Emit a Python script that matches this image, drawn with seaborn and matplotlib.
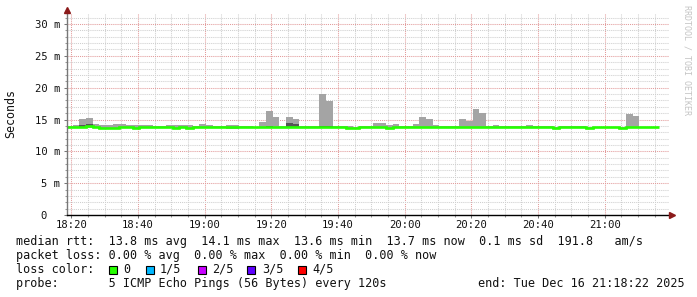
import numpy as np
import pandas as pd
import matplotlib
matplotlib.use("Agg")
import matplotlib.pyplot as plt
from matplotlib.patches import Rectangle
from matplotlib.ticker import MultipleLocator, FixedLocator
import seaborn as sns

# ---------------- data (ms, one value per 2-minute step) ----------------
median_ms = [13.8, 13.8, 13.8, 14.05, 13.9, 13.7, 13.7, 13.7, 13.85, 13.85,
             13.7, 13.85, 13.85, 13.8, 13.8, 13.8, 13.7, 13.8, 13.6, 13.8,
             13.75, 13.8, 13.8, 13.8, 13.75, 13.75, 13.8, 13.75, 13.75, 13.75,
             13.8, 13.85, 13.75, 13.8, 13.8, 13.8, 13.8, 13.8, 13.75, 13.75,
             13.85, 13.85, 13.7, 13.7, 13.8, 13.8, 13.8, 13.8, 13.7, 13.8,
             13.85, 13.85, 13.8, 13.8, 13.8, 13.85, 13.8, 13.8, 13.8, 13.85,
             13.85, 13.85, 13.85, 13.85, 13.8, 13.8, 13.8, 13.8, 13.8, 13.8,
             13.8, 13.8, 13.8, 13.65, 13.8, 13.8, 13.9, 13.8, 13.65, 13.8,
             13.8, 13.8, 13.8, 13.65, 13.8, 13.8, 13.8, 13.8, 13.8]
max_ms = [14.05, 14.1, 15.1, 15.3, 14.3, 14.1, 14.1, 14.3, 14.3, 14.1,
          14.1, 14.1, 14.1, 13.95, 13.95, 14.1, 14.1, 14.1, 14.1, 13.95,
          14.3, 14.1, 14.0, 14.0, 14.1, 14.1, 14.0, 13.95, 13.9, 14.6,
          16.3, 15.4, 13.95, 15.4, 15.1, 13.95, 13.95, 13.95, 19.0, 17.95,
          13.95, 13.95, 13.95, 13.9, 14.0, 14.0, 14.45, 14.45, 14.15, 14.35,
          14.0, 14.0, 14.35, 15.4, 15.1, 14.15, 13.95, 13.95, 14.0, 15.1,
          14.8, 16.65, 16.0, 13.95, 14.15, 13.95, 13.95, 13.95, 13.95, 14.15,
          13.95, 13.95, 13.95, 13.85, 13.95, 13.95, 14.05, 13.95, 13.85, 13.9,
          13.9, 13.9, 13.9, 13.85, 15.85, 15.55, 13.9, 13.9, 13.9]
min_ms = [13.6, 13.6, 13.6, 13.7, 13.65, 13.55, 13.55, 13.55, 13.6, 13.6,
          13.55, 13.6, 13.6, 13.6, 13.6, 13.6, 13.55, 13.6, 13.5, 13.6,
          13.6, 13.6, 13.6, 13.6, 13.5, 13.5, 13.6, 13.6, 13.6, 13.6,
          13.6, 13.65, 13.6, 13.6, 13.6, 13.6, 13.6, 13.6, 13.6, 13.6,
          13.65, 13.65, 13.55, 13.55, 13.6, 13.6, 13.6, 13.6, 13.55, 13.6,
          13.65, 13.65, 13.6, 13.6, 13.6, 13.65, 13.6, 13.6, 13.6, 13.65,
          13.65, 13.65, 13.65, 13.65, 13.6, 13.6, 13.6, 13.6, 13.6, 13.6,
          13.6, 13.6, 13.6, 13.5, 13.6, 13.6, 13.7, 13.6, 13.5, 13.6,
          13.6, 13.6, 13.6, 13.5, 13.6, 13.6, 13.6, 13.6, 13.6]
dark_bins = [2, 3, 30, 33, 34, 38, 39]
dark_top_ms = [14.15, 14.3, 14.0, 14.45, 14.3, 13.95, 13.95]

x_tick_labels = ["18:20", "18:40", "19:00", "19:20", "19:40",
                 "20:00", "20:20", "20:40", "21:00"]
y_tick_values = [0, 5, 10, 15, 20, 25, 30]
y_tick_labels = ["0  ", "5 m", "10 m", "15 m", "20 m", "25 m", "30 m"]

median_line = ("median rtt:  13.8 ms avg  14.1 ms max  13.6 ms min  "
               "13.7 ms now  0.1 ms sd  191.8   am/s")
loss_line = "packet loss: 0.00 % avg  0.00 % max  0.00 % min  0.00 % now"
loss_labels = ["0", "1/5", "2/5", "3/5", "4/5"]
loss_colors = ["#26ff00", "#00b8ff", "#c800ff", "#5e00ff", "#ff0000"]
probe_line = "probe:       5 ICMP Echo Pings (56 Bytes) every 120s"
end_line = "end: Tue Dec 16 21:18:22 2025"
watermark = "RRDTOOL / TOBI OETIKER"

# ---------------- style ----------------
W, H = 697, 297
sns.set_theme(style="white")
plt.rcParams["font.family"] = ["DejaVu Sans Mono", "DejaVu Sans"]

fig = plt.figure(figsize=(W / 100, H / 100), dpi=100)
fig.patch.set_facecolor("white")

ax_left, ax_right, ax_bottom, ax_top = 66.5, 669.0, 215.0, 13.0
ax = fig.add_axes([ax_left / W, 1 - ax_bottom / H,
                   (ax_right - ax_left) / W, (ax_bottom - ax_top) / H])
ax.set_facecolor("white")

# time axis in minutes relative to 18:20; first step begins at 18:18:22
step = 2.0
t_start = -(1 + 38 / 60)
n = len(median_ms)
edges = t_start + step * np.arange(n + 1)
df = pd.DataFrame({"start": edges[:-1], "median": median_ms,
                   "max": max_ms, "min": min_ms})

ax.bar(df["start"], df["max"] - df["min"], bottom=df["min"], width=step,
       align="edge", color="#a4a4a4", linewidth=0, zorder=2)
ax.bar(df["start"].iloc[dark_bins],
       np.array(dark_top_ms) - df["median"].iloc[dark_bins].values,
       bottom=df["median"].iloc[dark_bins], width=step, align="edge",
       color="#555555", linewidth=0, zorder=3)
ax.stairs(df["median"], edges, baseline=None, color="#26ff00",
          linewidth=1.9, zorder=4)

ax.set_xlim(-1.5, 179.3)
ax.set_ylim(0, 31.73)

ax.xaxis.set_major_locator(FixedLocator([20 * i for i in range(len(x_tick_labels))]))
ax.set_xticklabels(x_tick_labels)
ax.xaxis.set_minor_locator(MultipleLocator(5))
ax.yaxis.set_major_locator(FixedLocator(y_tick_values))
ax.set_yticklabels(y_tick_labels)
ax.yaxis.set_minor_locator(MultipleLocator(1))

ax.set_axisbelow(True)
ax.grid(which="major", color="#e29a9a", linestyle=(0, (1, 1)), linewidth=0.75)
ax.grid(which="minor", color="#cfcfcf", linestyle=(0, (1, 1)), linewidth=0.75)

ax.tick_params(axis="both", which="major", direction="out", length=2.2,
               width=0.75, color="#777777", labelsize=7.6, labelcolor="#111111")
ax.tick_params(axis="both", which="minor", direction="out", length=1.5,
               width=0.75, color="#999999")
ax.tick_params(axis="x", which="major", pad=1.5)
ax.tick_params(axis="y", which="major", pad=2.4)
ax.tick_params(axis="both", which="both", bottom=True, left=True)

sns.despine(ax=ax, top=True, right=True)
ax.spines["left"].set_color("#777777")
ax.spines["left"].set_linewidth(1.0)
ax.spines["bottom"].set_color("#000000")
ax.spines["bottom"].set_linewidth(1.0)
ax.spines["left"].set_zorder(5)
ax.spines["bottom"].set_zorder(5)

# axis arrows
ax.plot([0], [1.0 + 3 / 202], marker="^", markersize=4, color="#8b1a1a",
        transform=ax.transAxes, clip_on=False, zorder=6)
ax.plot([0, 0], [1.0, 1.0 + 3 / 202], color="#777777", lw=1.0,
        transform=ax.transAxes, clip_on=False, zorder=5)
ax.plot([1.0 + 2.5 / 602.5], [0], marker=">", markersize=4, color="#8b1a1a",
        transform=ax.transAxes, clip_on=False, zorder=6)

# labels
fig.text(11 / W, 1 - 114 / H, "Seconds", rotation=90, ha="center",
         va="center", fontsize=8.4, color="#111111")
fig.text(686.5 / W, 1 - 60 / H, watermark, rotation=270, ha="center",
         va="center", fontsize=6.0, color="#c4c4c4")

fs = 8.5
def ftext(x, y, s, **kw):
    fig.text(x / W, 1 - y / H, s, ha="left", va="center", fontsize=fs,
             color="#111111", **kw)

ftext(16, 241, median_line)
ftext(16, 255, loss_line)
ftext(16, 269.5, "loss color:")
sq_x = [108.5, 145.8, 198.0, 247.2, 297.7]
lab_x = [123.0, 160.0, 212.0, 261.7, 312.3]
for sx, lx, lab, col in zip(sq_x, lab_x, loss_labels, loss_colors):
    fig.patches.append(Rectangle((sx / W, 1 - 273.5 / H), 8 / W, 8 / H,
                                 transform=fig.transFigure, facecolor=col,
                                 edgecolor="black", linewidth=0.8))
    ftext(lx, 269.5, lab)
ftext(16, 283.5, probe_line)
ftext(478.3, 283.5, end_line)

fig.savefig("out.png", dpi=100, facecolor="white")
